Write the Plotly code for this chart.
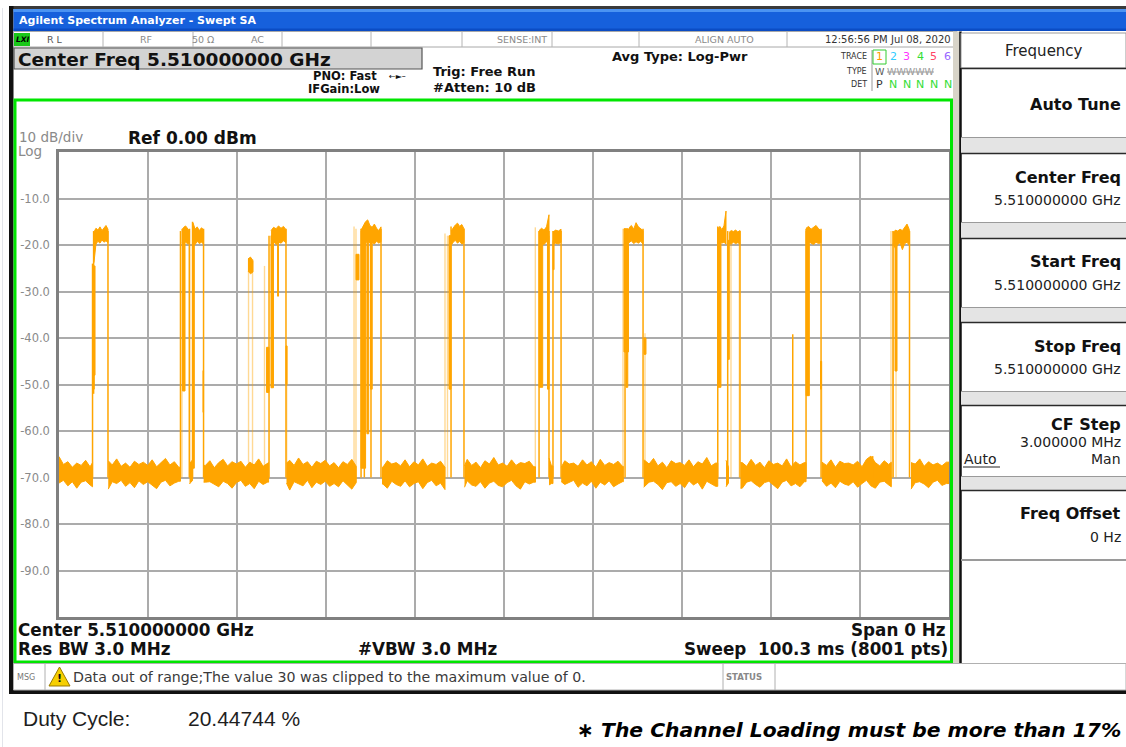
import math
import plotly.graph_objects as go

SWEEP_MS = 100.3            # zero-span sweep time (8001 pts)
N_XDIV = 10
Y_TICK_VALUES = [-10, -20, -30, -40, -50, -60, -70, -80, -90]
Y_TICK_TEXT = ["-10.0", "-20.0", "-30.0", "-40.0", "-50.0", "-60.0", "-70.0", "-80.0", "-90.0"]

# noise-floor envelope (dBm), one value every 0.5 ms from 0 to 100 ms
NOISE_STEP_MS = 0.5
NOISE_HI = [
    -65.5, -67.2, -66.6, -67.8, -66.9, -67.4, -66.3, -67.7, -66.8, -67.1, -67.5, -66.4, -67.3, -66.0, -67.6, -66.9, -67.8, -66.5, -67.2, -66.7,
    -67.4, -66.2, -67.7, -66.8, -65.9, -67.3, -66.6, -67.8, -66.3, -67.0, -66.2, -67.5, -66.9, -67.4, -66.4, -67.9, -66.8, -66.1, -67.5, -66.6,
    -67.1, -66.5, -67.8, -66.7, -67.3, -66.0, -67.6, -66.8, -67.2, -66.4, -67.7, -66.9, -66.3, -67.4, -65.8, -67.2, -66.6, -67.8, -66.5, -67.0,
    -66.3, -67.5, -66.8, -67.9, -66.6, -67.2, -66.1, -67.6, -66.9, -67.3, -65.9, -67.4, -66.7, -67.8, -66.4, -67.1, -66.8, -67.5, -66.2, -67.7,
    -66.6, -67.3, -66.0, -67.6, -66.9, -67.2, -66.5, -67.8, -66.3, -67.0, -66.8, -67.5, -66.1, -67.4, -66.7, -67.9, -66.4, -67.1, -65.7, -67.3,
    -66.9, -67.6, -66.2, -67.4, -66.8, -67.0, -66.5, -67.7, -66.3, -67.2, -65.8, -67.5, -66.7, -67.8, -66.4, -67.1, -66.9, -67.6, -66.2, -67.3,
    -66.6, -67.8, -66.1, -67.4, -66.8, -67.2, -66.5, -67.6, -66.0, -67.3, -66.9, -67.7, -66.3, -67.1, -65.9, -67.5, -66.7, -67.9, -66.4, -67.0,
    -66.8, -67.4, -66.2, -67.7, -66.6, -67.1, -65.7, -67.5, -66.9, -67.3, -66.3, -67.8, -66.5, -67.2, -66.8, -67.6, -66.1, -67.4, -66.7, -67.9,
    -66.4, -67.2, -66.9, -67.5, -66.0, -67.7, -66.6, -67.3, -66.8, -67.1, -66.3, -67.6, -66.7, -67.4, -66.2, -67.8, -66.5, -67.0, -66.9, -67.3,
    -66.5, -67.7, -66.1, -65.4, -66.8, -67.5, -66.4, -67.2, -66.7, -67.9, -66.3, -67.4, -66.8, -67.1, -66.0, -67.6, -66.6, -67.3, -66.9, -67.5,
    -66.7,
]
NOISE_LO = [
    -71.2, -70.6, -71.8, -70.9, -72.3, -71.0, -70.7, -71.6, -72.0, -70.8, -71.4, -72.5, -70.9, -71.3, -70.6, -71.9, -71.1, -72.2, -70.7, -71.5,
    -70.9, -71.7, -72.4, -71.0, -70.6, -71.8, -71.2, -70.8, -72.1, -71.4, -70.7, -71.6, -72.6, -71.0, -70.9, -71.5, -72.0, -70.8, -71.3, -72.3,
    -71.1, -70.6, -71.9, -71.3, -72.4, -70.8, -71.5, -71.0, -72.1, -70.7, -71.6, -71.2, -72.7, -70.9, -71.4, -71.8, -70.6, -72.2, -71.0, -71.5,
    -70.8, -71.9, -71.3, -72.0, -70.7, -71.6, -72.5, -71.1, -70.9, -71.7, -72.2, -71.0, -70.6, -71.4, -72.3, -70.8, -71.5, -71.9, -70.7, -72.0,
    -71.3, -70.9, -72.4, -71.1, -70.6, -71.8, -71.2, -72.6, -70.8, -71.5, -71.0, -72.1, -70.7, -71.6, -71.9, -70.9, -72.3, -71.2, -70.8, -71.7,
    -72.0, -71.1, -70.6, -71.8, -72.5, -70.9, -71.4, -71.0, -72.2, -70.7, -71.6, -71.3, -72.8, -70.9, -71.5, -71.1, -70.6, -72.1, -71.2, -71.8,
    -70.8, -72.3, -71.0, -71.6, -70.7, -72.0, -71.4, -70.9, -72.4, -71.2, -70.6, -71.7, -72.1, -71.0, -70.8, -71.5, -72.6, -71.1, -70.9, -71.9,
    -71.3, -72.2, -70.7, -71.6, -71.0, -72.5, -70.8, -71.4, -71.9, -70.6, -72.0, -71.2, -70.9, -71.7, -72.3, -71.0, -70.7, -71.5, -72.1, -71.1,
    -70.8, -71.6, -72.4, -71.0, -70.6, -71.8, -71.3, -72.0, -70.9, -71.5, -72.6, -71.1, -70.7, -71.9, -71.2, -72.2, -70.8, -71.4, -71.7, -70.9,
    -72.1, -71.3, -70.6, -71.8, -72.3, -71.0, -70.8, -71.6, -72.0, -71.2, -70.7, -71.9, -72.5, -71.1, -70.9, -71.4, -72.2, -71.0, -70.6, -71.7,
    -71.3,
]
# time spans (ms) where the trace sits on the noise floor
NOISE_SEG_START = [0.00, 5.55, 14.71, 16.30, 25.64, 36.40, 45.70, 55.22, 56.60, 65.90, 75.17, 76.80, 85.99, 96.02]
NOISE_SEG_END   = [3.78, 13.69, 15.05, 23.62, 33.50, 43.50, 53.70, 55.67, 63.60, 74.24, 75.45, 84.19, 93.80, 100.3]

# burst plateaus (ms) with their upper / lower envelope (dBm)
PLATEAU_START = [3.94, 13.83, 15.10, 21.30, 23.90, 34.04, 44.18, 54.10, 55.67, 64.24, 74.24, 75.51, 84.19, 94.00]
PLATEAU_END   = [5.52, 14.71, 16.29, 21.86, 25.58, 36.29, 45.64, 55.22, 56.58, 65.82, 75.17, 76.75, 85.88, 95.83]
PLATEAU_HI = [
    [-17.2, -16.4, -16.8, -16.1, -16.9, -16.3, -15.8, -16.6],
    [-16.8, -16.2, -15.9, -16.5, -17.0],
    [-15.2, -16.6, -16.1, -16.9, -16.3, -16.7],
    [-23.0, -22.6, -23.4],
    [-16.9, -16.2, -16.5, -15.9, -16.4, -16.0, -16.7],
    [-16.8, -15.9, -15.0, -14.6, -15.8, -16.2, -15.5, -16.4, -16.9, -16.1],
    [-17.0, -16.2, -15.7, -15.3, -16.0, -15.6, -16.5],
    [-16.9, -16.4, -16.8, -16.1, -13.5],
    [-17.2, -16.8, -17.0, -16.6],
    [-16.3, -15.8, -16.6, -15.2, -16.1, -16.5, -16.9],
    [-16.5, -16.0, -16.7, -15.9, -12.7],
    [-17.3, -16.9, -17.1, -16.8, -17.2, -16.9],
    [-16.4, -16.0, -16.6, -16.2, -15.8, -16.5, -16.9],
    [-17.4, -16.8, -17.0, -16.6, -16.9, -16.2, -15.5, -16.7],
]
PLATEAU_LO = [
    [-23.8, -19.8, -19.2, -19.6, -18.9, -19.4, -19.1, -19.5],
    [-19.6, -19.9, -19.3, -19.8, -19.5],
    [-19.4, -19.9, -19.2, -19.7, -19.4, -19.8],
    [-25.6, -26.2, -25.8],
    [-19.7, -19.2, -19.9, -19.4, -19.6, -19.1, -19.5],
    [-19.8, -19.3, -19.7, -19.0, -19.6, -19.4, -19.8, -19.2, -19.6, -19.3],
    [-20.1, -19.4, -19.0, -19.6, -19.2, -19.8, -19.5],
    [-19.8, -19.5, -19.9, -19.3, -19.6],
    [-19.9, -19.6, -19.8, -19.4],
    [-19.5, -19.1, -19.7, -19.3, -19.6, -19.2, -19.8],
    [-19.7, -19.2, -19.6, -19.4, -19.8],
    [-19.6, -19.8, -19.4, -19.7, -19.5, -19.8],
    [-19.8, -19.3, -19.6, -19.9, -19.4, -19.7, -19.5],
    [-19.6, -20.8, -19.9, -19.5, -21.0, -19.7, -19.4, -20.1],
]
# rising / falling edges drawn at full intensity (ms, low dBm, high dBm)
EDGE_T  = [3.78, 3.90, 5.52, 13.69, 14.71, 15.05, 16.29, 23.67, 25.58, 34.04, 34.41, 35.16, 36.29, 44.18, 45.64,
           54.10, 55.22, 55.67, 56.58, 63.79, 65.82, 74.24, 75.36, 76.75, 82.69, 84.19, 85.88, 91.70, 94.00, 95.85]
EDGE_LO = [-70.0, -52.0, -70.0, -70.0, -70.0, -70.0, -70.0, -70.0, -70.0, -70.0, -70.0, -70.0, -70.0, -70.0, -70.0,
           -70.0, -70.0, -70.0, -70.0, -70.0, -70.0, -70.0, -70.0, -70.0, -70.0, -70.0, -70.0, -70.0, -70.0, -70.0]
EDGE_HI = [-24.0, -17.0, -17.0, -17.0, -16.5, -15.0, -16.5, -18.0, -16.5, -16.5, -17.0, -17.0, -16.5, -16.0, -16.5,
           -17.0, -17.0, -17.0, -17.0, -16.5, -16.5, -16.0, -17.0, -17.0, -39.2, -16.5, -16.5, -65.4, -17.0, -17.0]
# faint (rarely hit) edges
GHOST_T  = [13.86, 14.65, 21.36, 21.81, 23.16, 25.66, 33.25, 33.47, 43.50, 43.78, 53.68, 63.56, 66.04, 75.73, 76.67, 85.95, 93.76, 93.96, 94.33]
GHOST_LO = [-70.0, -70.0, -70.0, -70.0, -70.0, -70.0, -70.0, -70.0, -70.0, -70.0, -70.0, -70.0, -70.0, -70.0, -70.0, -70.0, -70.0, -70.0, -70.0]
GHOST_HI = [-16.5, -17.0, -23.0, -23.0, -24.5, -41.7, -16.0, -16.5, -17.5, -18.0, -16.2, -16.5, -39.0, -17.0, -17.0, -45.0, -17.0, -17.0, -17.0]
# dense partial-level segments inside the bursts
STUB_START = [3.78, 3.83, 13.92, 15.05, 16.23, 23.39, 23.89, 24.63, 25.58, 33.47, 34.04, 34.70, 35.10, 43.95,
              54.10, 55.05, 55.67, 63.67, 63.90, 65.93, 74.24, 75.36, 84.19, 85.82, 94.22]
STUB_END   = [4.06, 3.97, 14.20, 15.25, 16.29, 23.67, 24.17, 24.74, 25.70, 33.81, 34.55, 34.90, 35.30, 44.18,
              54.51, 55.22, 55.79, 64.18, 64.10, 66.15, 74.60, 75.54, 84.56, 85.93, 94.44]
STUB_LO    = [-48.0, -51.0, -51.4, -68.0, -56.0, -51.7, -50.7, -31.0, -50.0, -27.5, -68.0, -60.6, -51.0, -51.0,
              -50.6, -51.0, -25.3, -43.0, -50.6, -43.5, -50.6, -44.6, -52.4, -51.0, -47.1]
STUB_HI    = [-24.5, -48.0, -19.0, -17.0, -47.0, -42.0, -18.0, -19.0, -41.7, -22.0, -17.0, -18.0, -18.0, -18.0,
              -17.0, -18.0, -19.0, -16.5, -43.0, -40.0, -17.0, -19.0, -17.0, -45.0, -19.0]

TRACE_COLOR = "#FFA500"
GHOST_COLOR = "rgba(255,165,0,0.42)"

# ---------------- figure geometry (pixels of the 1126x747 page) ----------------
W, H = 1126, 747
PL, PR, PT, PB = 59, 949, 152, 617


def X(px):
    return (px - PL) / (PR - PL)


def Y(py):
    return (PB - py) / (PB - PT)


fig = go.Figure()

# faint edges
gx, gy = [], []
for t, lo, hi in zip(GHOST_T, GHOST_LO, GHOST_HI):
    gx += [t, t, None]
    gy += [lo, hi, None]
fig.add_trace(go.Scatter(x=gx, y=gy, mode="lines", line=dict(color=GHOST_COLOR, width=1.4),
                         hoverinfo="skip", showlegend=False))

# noise floor polygons
nx, ny = [], []
for s, e in zip(NOISE_SEG_START, NOISE_SEG_END):
    k0 = math.ceil(s / NOISE_STEP_MS - 1e-9)
    k1 = math.floor(e / NOISE_STEP_MS + 1e-9)
    ks = list(range(k0, k1 + 1))
    ke0 = min(round(s / NOISE_STEP_MS), len(NOISE_HI) - 1)
    ke1 = min(round(e / NOISE_STEP_MS), len(NOISE_HI) - 1)
    xs = [s] + [k * NOISE_STEP_MS for k in ks] + [e]
    his = [NOISE_HI[ke0]] + [NOISE_HI[k] for k in ks] + [NOISE_HI[ke1]]
    los = [NOISE_LO[ke0]] + [NOISE_LO[k] for k in ks] + [NOISE_LO[ke1]]
    nx += xs + xs[::-1] + [None]
    ny += his + los[::-1] + [None]
fig.add_trace(go.Scatter(x=nx, y=ny, mode="lines", fill="toself", fillcolor=TRACE_COLOR,
                         line=dict(color=TRACE_COLOR, width=1), hoverinfo="skip", showlegend=False))

# partial-level stubs
sx, sy = [], []
for a, b, lo, hi in zip(STUB_START, STUB_END, STUB_LO, STUB_HI):
    sx += [a, b, b, a, a, None]
    sy += [lo, lo, hi, hi, lo, None]
fig.add_trace(go.Scatter(x=sx, y=sy, mode="lines", fill="toself", fillcolor=TRACE_COLOR,
                         line=dict(color=TRACE_COLOR, width=1), hoverinfo="skip", showlegend=False))

# burst edges
ex, ey = [], []
for t, lo, hi in zip(EDGE_T, EDGE_LO, EDGE_HI):
    ex += [t, t, None]
    ey += [lo, hi, None]
fig.add_trace(go.Scatter(x=ex, y=ey, mode="lines", line=dict(color=TRACE_COLOR, width=1.5),
                         hoverinfo="skip", showlegend=False))

# burst plateaus
px_, py_ = [], []
for t0, t1, his, los in zip(PLATEAU_START, PLATEAU_END, PLATEAU_HI, PLATEAU_LO):
    n = len(his)
    xs = [t0 + (t1 - t0) * i / (n - 1) for i in range(n)]
    px_ += xs + xs[::-1] + [None]
    py_ += his + los[::-1] + [None]
fig.add_trace(go.Scatter(x=px_, y=py_, mode="lines", fill="toself", fillcolor=TRACE_COLOR,
                         line=dict(color=TRACE_COLOR, width=1), hoverinfo="skip", showlegend=False))

# ---------------- screen decoration ----------------
shapes = []
ann = []
SF = "DejaVu Sans"


def rect(x0, y0, x1, y1, fill=None, line=None, lw=0):
    shapes.append(dict(type="rect", xref="paper", yref="paper", x0=X(x0), x1=X(x1), y0=Y(y1), y1=Y(y0),
                       fillcolor=fill if fill else "rgba(0,0,0,0)",
                       line=dict(color=line if line else "rgba(0,0,0,0)", width=lw)))


def hline(x0, x1, y, color, lw=1):
    shapes.append(dict(type="line", xref="paper", yref="paper", x0=X(x0), x1=X(x1), y0=Y(y), y1=Y(y),
                       line=dict(color=color, width=lw)))


def vline(x, y0, y1, color, lw=1):
    shapes.append(dict(type="line", xref="paper", yref="paper", x0=X(x), x1=X(x), y0=Y(y0), y1=Y(y1),
                       line=dict(color=color, width=lw)))


def text(x, y, s, size, color="#000", anchor="left", family=SF, bold=False, italic=False):
    if bold:
        s = "<b>" + s + "</b>"
    if italic:
        s = "<i>" + s + "</i>"
    ann.append(dict(xref="paper", yref="paper", x=X(x), y=Y(y), text=s, showarrow=False,
                    xanchor=anchor, yanchor="middle", borderpad=0,
                    font=dict(family=family, size=size, color=color)))


# outer window frame
vline(2.5, 8, 747, "#e2e4ea", 1)
rect(9, 6, W, 9, fill="#3a3a3a")
rect(9, 6, 13.5, 694, fill="#111111")
rect(9, 690, W, 694, fill="#111111")
# title bar
rect(13.5, 9, W, 31, fill="#1660dc")
rect(13.5, 9, W, 12, fill="#4b93f2")
rect(13.5, 28.5, W, 31, fill="#0b4cc4")
text(18, 20.5, "Agilent Spectrum Analyzer - Swept SA", 11, "#ffffff", bold=True)

# status row
rect(13.5, 31.5, 957, 47, fill="#ffffff", line="#a8a8a8", lw=1)
for xd in [103, 193, 282, 371, 462, 552, 639, 787]:
    vline(xd, 31.5, 47, "#b4b4b4", 1)
rect(14, 33, 30, 46, fill="#19c819")
text(15, 39.5, "LXI", 7.5, "#000000", bold=True, italic=True)
text(46, 39.5, "R L", 9.5, "#555555")
text(139, 39.5, "RF", 9.5, "#8a8a8a")
text(191, 39.5, "50 Ω", 9.5, "#8a8a8a")
text(250, 39.5, "AC", 9.5, "#8a8a8a")
text(548, 39.5, "SENSE:INT", 9.5, "#8a8a8a", anchor="right")
text(755, 39.5, "ALIGN AUTO", 9.5, "#8a8a8a", anchor="right")
text(952, 39.5, "12:56:56 PM Jul 08, 2020", 10, "#333333", anchor="right")

# center frequency box and settings
rect(14, 48, 422, 69, fill="#d3d3d3", line="#555555", lw=1.2)
text(17, 59, "Center Freq 5.510000000 GHz", 18.5, "#111111", bold=True)
text(312, 76, "PNO: Fast", 11.5, "#111111", bold=True)
text(388, 76, "←►–", 8, "#111111")
text(307, 89.5, "IFGain:Low", 11.5, "#111111", bold=True)
text(432, 72, "Trig: Free Run", 13, "#111111", bold=True)
text(432, 88, "#Atten: 10 dB", 13, "#111111", bold=True)
text(611, 57, "Avg Type: Log-Pwr", 13, "#111111", bold=True)

# trace / type / detector block
text(868, 57, "TRACE", 8, "#333333", anchor="right")
text(868, 71, "TYPE", 8, "#333333", anchor="right")
text(868, 84.5, "DET", 8, "#333333", anchor="right")
vline(872, 50, 91, "#999999", 1)
rect(873, 50, 886, 64, line="#33cc33", lw=1)
for i, (c, col) in enumerate(zip("123456", ["#ff9900", "#33ccff", "#ff33ff", "#33dd33", "#ff4466", "#9966ff"])):
    text(879.5 + 13.6 * i, 57, c, 11, col, anchor="center")
text(874, 71, "W", 9.5, "#555555")
text(886, 71, "<s>WWWWW</s>", 9.5, "#9a9a9a")
text(879.5, 84.5, "P", 11, "#333333", anchor="center")
for i in range(1, 6):
    text(879.5 + 13.6 * i, 84.5, "N", 11, "#33dd33", anchor="center")

# green graticule frame
rect(15, 100, 951.5, 662, line="#00e600", lw=3)
text(18, 137, "10 dB/div", 13.5, "#8a8a8a")
text(17, 150.5, "Log", 13.5, "#8a8a8a")
text(127, 138, "Ref 0.00 dBm", 17, "#111111", bold=True)

# bottom annotations inside the frame
text(17, 630, "Center 5.510000000 GHz", 16.8, "#111111", bold=True)
text(17, 649, "Res BW 3.0 MHz", 16.8, "#111111", bold=True)
text(357, 649, "#VBW 3.0 MHz", 16.8, "#111111", bold=True)
text(947, 630, "Span 0 Hz", 16.8, "#111111", anchor="right", bold=True)
text(949, 649, "Sweep&nbsp;&nbsp;100.3 ms (8001 pts)", 16.8, "#111111", anchor="right", bold=True)

# right-hand soft-key panel
rect(953, 31.5, 960, 663, fill="#d8d4c8")
rect(960, 31.5, W, 663, fill="#ffffff")
vline(960.5, 31.5, 663, "#111111", 2.5)
rect(961, 33, W, 68, fill="#ffffff", line="#9a9a9a", lw=1)
text(1044, 50.5, "Frequency", 15, "#222222", anchor="center")
keys = [(68, 138), (153, 223), (238, 308), (322, 392), (405, 477), (490, 560)]
gaps = [(138, 153), (223, 238), (308, 322), (392, 405), (477, 490)]
for g0, g1 in gaps:
    rect(961, g0, W, g1, fill="#e4e4e4")
for k0, k1 in keys:
    hline(961, W, k0 + 0.5, "#2a2a2a", 1.5)
    hline(961, W, k1 - 0.5, "#9a9a9a", 1)
hline(961, W, 560.5, "#9a9a9a", 1)
text(1122, 104.5, "Auto Tune", 16, "#111111", anchor="right", bold=True)
text(1122, 177.5, "Center Freq", 16, "#111111", anchor="right", bold=True)
text(1122, 200, "5.510000000 GHz", 14, "#222222", anchor="right")
text(1122, 261.5, "Start Freq", 16, "#111111", anchor="right", bold=True)
text(1122, 284.5, "5.510000000 GHz", 14, "#222222", anchor="right")
text(1122, 346.5, "Stop Freq", 16, "#111111", anchor="right", bold=True)
text(1122, 369, "5.510000000 GHz", 14, "#222222", anchor="right")
text(1122, 424.5, "CF Step", 16, "#111111", anchor="right", bold=True)
text(1122, 441.5, "3.000000 MHz", 14, "#222222", anchor="right")
text(963, 459, "Auto", 14, "#222222")
hline(963, 1000, 467, "#222222", 1)
text(1122, 459, "Man", 14, "#222222", anchor="right")
text(1122, 513.5, "Freq Offset", 16, "#111111", anchor="right", bold=True)
text(1122, 536.5, "0 Hz", 14, "#222222", anchor="right")

# message row
rect(13.5, 663.5, W, 690, fill="#ffffff", line="#b0b0b0", lw=1)
vline(45, 663.5, 690, "#b0b0b0", 1)
vline(723, 663.5, 690, "#b0b0b0", 1)
vline(775, 663.5, 690, "#b0b0b0", 1)
text(16, 677, "MSG", 8, "#777777")
shapes.append(dict(type="path", xref="paper", yref="paper",
                   path="M %f,%f L %f,%f L %f,%f Z" % (X(59.5), Y(667), X(70), Y(686), X(49), Y(686)),
                   fillcolor="#f6cf00", line=dict(color="#9a7a00", width=1)))
text(59.5, 678.5, "!", 11, "#111111", anchor="center", bold=True)
text(72, 677, "Data out of range;The value 30 was clipped to the maximum value of 0.", 14.2, "#3a3a3a")
text(725, 676.5, "STATUS", 8.5, "#888888", bold=True)

# text below the capture
text(22, 718, "Duty Cycle:", 21, "#1e1e1e", family="Liberation Sans")
text(187, 718, "20.44744 %", 21, "#1e1e1e", family="Liberation Sans")
text(576, 730, "∗ The Channel Loading must be more than 17%", 20.3, "#000000", bold=True, italic=True)

fig.update_layout(
    width=W, height=H,
    margin=dict(l=PL, r=W - PR, t=PT, b=H - PB, pad=0),
    paper_bgcolor="#ffffff", plot_bgcolor="#ffffff",
    showlegend=False,
    shapes=shapes, annotations=ann,
    xaxis=dict(range=[0, SWEEP_MS], tickvals=[SWEEP_MS * i / N_XDIV for i in range(N_XDIV + 1)],
               showticklabels=False, ticks="", showgrid=True, gridcolor="#ababab", gridwidth=1.5,
               zeroline=False, showline=True, linecolor="#808080", linewidth=2.5, mirror=True,
               fixedrange=True),
    yaxis=dict(range=[-100, 0], tickvals=Y_TICK_VALUES, ticktext=Y_TICK_TEXT, ticks="",
               tickfont=dict(family=SF, size=11.5, color="#8a8a8a"), ticklabelstandoff=4,
               showgrid=True, gridcolor="#ababab", gridwidth=1.5, zeroline=False,
               showline=True, linecolor="#808080", linewidth=2.5, mirror=True, fixedrange=True),
)

fig.write_html("out.html", config={"displayModeBar": False},
               post_script="document.body.style.margin='0';document.body.style.overflow='hidden';")
